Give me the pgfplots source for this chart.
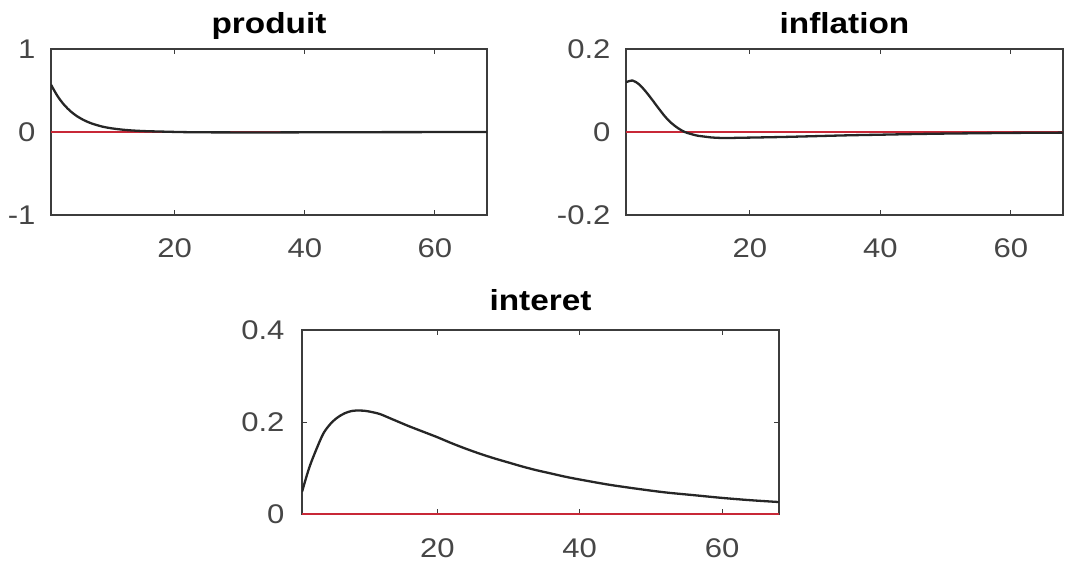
\documentclass[border=0pt]{standalone}
\usepackage{fontspec}
\setmainfont[FakeStretch=1.15]{Liberation Sans}
\usepackage{pgfplots}
\pgfplotsset{compat=1.18}

\definecolor{irfred}{RGB}{200,40,55}
\definecolor{axgray}{RGB}{60,60,60}
\definecolor{lblgray}{RGB}{70,70,70}

\pgfplotsset{
  irf/.style={
    scale only axis,
    anchor=south west,
    xmin=1, xmax=68,
    xtick={20,40,60},
    axis line style={draw=axgray, line width=1.6pt},
    tick style={draw=axgray, line width=1pt},
    major tick length=5pt,
    tick align=inside,
    ticklabel style={font=\fontsize{27}{30}\selectfont, text=lblgray},
    /pgf/number format/assume math mode=true,
    xticklabel style={yshift=-20pt},
    yticklabel style={xshift=-12pt},
    title style={font=\bfseries\fontsize{29}{30}\selectfont, anchor=base, at={(0.5,1)}},
  },
}

\begin{document}
\begin{tikzpicture}[x=1pt,y=1pt]
\useasboundingbox (0,0) rectangle (1065,566);

% produit
\begin{axis}[irf, at={(51pt,351pt)}, width=436pt, height=166pt,
    ymin=-1, ymax=1, ytick={-1,0,1},
    title={produit}, title style={yshift=10pt}]
\addplot[irfred, line width=1.5pt] coordinates {(1,0) (68,0)};
\addplot[black!85, line width=2.3pt, smooth] coordinates {
  (1,0.570) (2,0.433) (3,0.329) (4,0.250) (5,0.190) (6,0.145) (7,0.110)
  (8,0.084) (9,0.063) (10,0.048) (11,0.037) (12,0.028) (13,0.021) (14,0.016)
  (15,0.012) (16,0.009) (17,0.007) (18,0.005) (19,0.003) (20,0.001)
  (22,-0.002) (25,-0.004) (30,-0.005) (35,-0.005) (40,-0.004) (45,-0.003)
  (50,-0.002) (55,-0.0015) (60,-0.001) (68,-0.0005)
};
\end{axis}

% inflation
\begin{axis}[irf, at={(626pt,351pt)}, width=437pt, height=166pt,
    ymin=-0.2, ymax=0.2, ytick={-0.2,0,0.2},
    yticklabel style={/pgf/number format/fixed},
    title={inflation}, title style={yshift=10pt}]
\addplot[irfred, line width=1.5pt] coordinates {(1,0) (68,0)};
\addplot[black!85, line width=2.3pt, smooth] coordinates {
  (1,0.120) (2,0.124) (3,0.115) (4,0.098) (5,0.078) (6,0.057) (7,0.037)
  (8,0.021) (9,0.009) (10,0.000) (11,-0.005) (12,-0.009) (13,-0.011)
  (14,-0.013) (15,-0.014) (16,-0.0145) (17,-0.0145) (18,-0.014) (20,-0.0135)
  (25,-0.012) (30,-0.010) (35,-0.008) (40,-0.0065) (45,-0.005) (50,-0.0038)
  (55,-0.003) (60,-0.0022) (68,-0.0015)
};
\end{axis}

% interet
\begin{axis}[irf, at={(302pt,52pt)}, width=477pt, height=184pt,
    ymin=0, ymax=0.4, ytick={0,0.2,0.4},
    yticklabel style={/pgf/number format/fixed, xshift=-2pt},
    xticklabel style={yshift=-1pt},
    title={interet}, title style={yshift=14pt}]
\addplot[irfred, line width=1.5pt] coordinates {(1,0) (68,0)};
\addplot[black!85, line width=2.3pt, smooth] coordinates {
  (1,0.048) (2,0.100) (3,0.140) (4,0.175) (5,0.196) (6,0.210) (7,0.219)
  (8,0.224) (9,0.225) (10,0.224) (11,0.221) (12,0.217) (14,0.204)
  (16,0.191) (18,0.179) (20,0.167) (22,0.154) (24,0.142) (26,0.131)
  (28,0.121) (30,0.112) (32,0.103) (34,0.095) (36,0.088) (38,0.081)
  (40,0.075) (44,0.064) (48,0.055) (52,0.047) (56,0.041) (60,0.035)
  (64,0.030) (68,0.026)
};
\end{axis}
\end{tikzpicture}
\end{document}
